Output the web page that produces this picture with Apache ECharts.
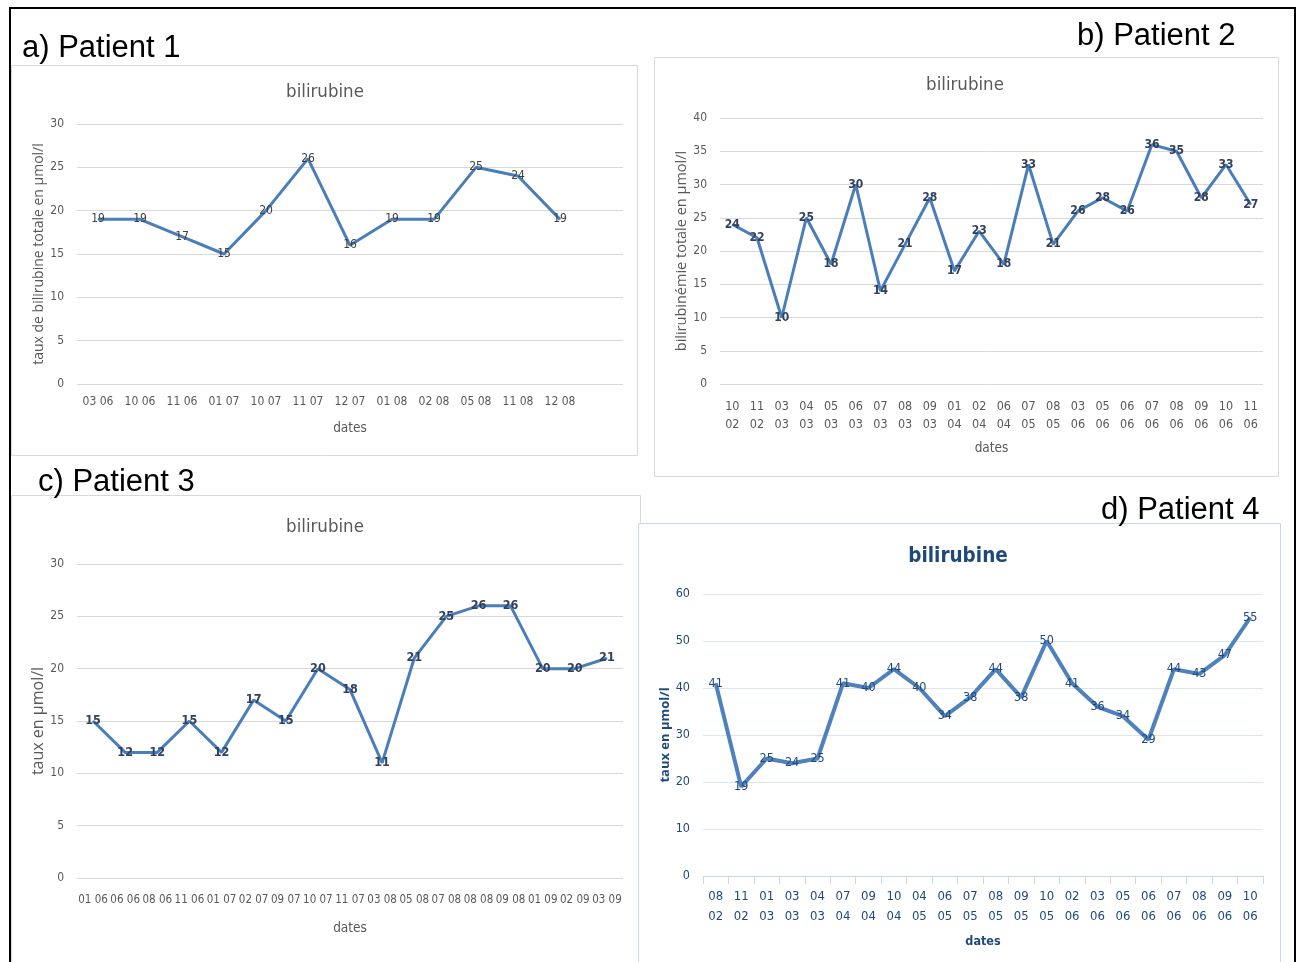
<!DOCTYPE html>
<html><head><meta charset="utf-8">
<script src="https://cdn.jsdelivr.net/npm/echarts@6/dist/echarts.min.js"></script>
<style>html,body{margin:0;padding:0;background:#fff}#c{width:1300px;height:962px}</style>
</head><body><div id="c"></div>
<script>
// Patient 1
const datesP1 = ['03 06','10 06','11 06','01 07','10 07','11 07','12 07','01 08','02 08','05 08','11 08','12 08'];
const biliP1 = [19,19,17,15,20,26,16,19,19,25,24,19];
// Patient 2
const datesP2 = ['10\n02','11\n02','03\n03','04\n03','05\n03','06\n03','07\n03','08\n03','09\n03','01\n04','02\n04','06\n04','07\n05','08\n05','03\n06','05\n06','06\n06','07\n06','08\n06','09\n06','10\n06','11\n06'];
const biliP2 = [24,22,10,25,18,30,14,21,28,17,23,18,33,21,26,28,26,36,35,28,33,27];
// Patient 3
const datesP3 = ['01 06','06 06','08 06','11 06','01 07','02 07','09 07','10 07','11 07','03 08','05 08','07 08','08 08','09 08','01 09','02 09','03 09'];
const biliP3 = [15,12,12,15,12,17,15,20,18,11,21,25,26,26,20,20,21];
// Patient 4
const datesP4 = ['08\n02','11\n02','01\n03','03\n03','04\n03','07\n04','09\n04','10\n04','04\n05','06\n05','07\n05','08\n05','09\n05','10\n05','02\n06','03\n06','05\n06','06\n06','07\n06','08\n06','09\n06','10\n06'];
const biliP4 = [41,19,25,24,25,41,40,44,40,34,38,44,38,50,41,36,34,29,44,43,47,55];

const titles = ['a) Patient 1','b) Patient 2','c) Patient 3','d) Patient 4'];
const chartTitle = 'bilirubine';
const yNames = ['taux de bilirubine totale en µmol/l','bilirubinémie totale en µmol/l','taux en µmol/l','taux en µmol/l'];
const xName = 'dates';

const NARROW = "'DejaVu Sans Condensed','Liberation Sans Narrow',sans-serif";
const SANS = "'Open Sans','Noto Sans',sans-serif";
const GRAY = '#595959';
const BLUE = '#4a7ebb';
const DBLUE = '#1f497d';

const chart = echarts.init(document.getElementById('c'), null, {renderer:'canvas'});

const grids = [
  {left:77, top:124, width:546, height:260},
  {left:720, top:118, width:543, height:266},
  {left:77, top:564, width:546, height:314},
  {left:703, top:594, width:560, height:282}
];

function xAx(i, data, opts){
  return Object.assign({
    type:'category', gridIndex:i, data:data, boundaryGap:true,
    name:xName, nameLocation:'middle',
    axisLine:{show:false}, axisTick:{show:false},
    axisLabel:{interval:0, color:GRAY, fontFamily:NARROW, fontSize:12, margin:12},
    nameTextStyle:{color:GRAY, fontFamily:NARROW, fontSize:13.5}
  }, opts);
}
function yAx(i, max, interval, name, opts){
  return Object.assign({
    type:'value', gridIndex:i, min:0, max:max, interval:interval,
    name:name, nameLocation:'middle', nameGap:30,
    nameTextStyle:{color:GRAY, fontFamily:SANS, fontSize:14},
    axisLine:{show:false}, axisTick:{show:false},
    axisLabel:{color:GRAY, fontFamily:NARROW, fontSize:12, margin:13},
    splitLine:{lineStyle:{color:'#d9d9d9', width:1}}
  }, opts);
}
function ser(i, data, labelOpts, lineOpts){
  return {
    type:'line', xAxisIndex:i, yAxisIndex:i, data:data,
    symbol:'circle', symbolSize:1, showSymbol:true,
    itemStyle:{color:BLUE},
    lineStyle:Object.assign({color:BLUE, width:3}, lineOpts||{}),
    label:Object.assign({show:true, position:'inside', color:'#404040', fontFamily:NARROW, fontSize:12}, labelOpts||{}),
    animation:false, silent:true
  };
}
function ttl(x, y, size, color, weight){
  return {type:'text', x:x, y:y, style:{text:chartTitle, textAlign:'center', textVerticalAlign:'middle',
    font:(weight||'normal')+' '+size+'px '+NARROW, fill:color}};
}
function plab(i, x, y){
  return {type:'text', x:x, y:y, style:{text:titles[i], textVerticalAlign:'middle', font:"31px 'Liberation Sans',Arial,sans-serif", fill:'#000'}};
}

const option = {
  animation:false,
  grid:grids,
  xAxis:[
    xAx(0, datesP1, {max:12, nameGap:37}),
    xAx(1, datesP2, {nameGap:57, axisLabel:{interval:0, color:GRAY, fontFamily:NARROW, fontSize:12.5, margin:14, lineHeight:18}}),
    xAx(2, datesP3, {nameGap:43, axisLabel:{interval:0, color:GRAY, fontFamily:NARROW, fontSize:11.5, margin:16}}),
    xAx(3, datesP4, {nameGap:59,
      axisLine:{show:true, lineStyle:{color:'#c6d9f1', width:1}},
      axisTick:{show:true, length:8, lineStyle:{color:'#c6d9f1'}},
      axisLabel:{interval:0, color:DBLUE, fontFamily:NARROW, fontSize:13, margin:11, lineHeight:20},
      nameTextStyle:{color:DBLUE, fontFamily:NARROW, fontSize:12.5, fontWeight:'bold'}})
  ],
  yAxis:[
    yAx(0, 30, 5, yNames[0]),
    yAx(1, 40, 5, yNames[1], {nameGap:31, nameTextStyle:{color:GRAY, fontFamily:SANS, fontSize:14.5}}),
    yAx(2, 30, 5, yNames[2], {nameTextStyle:{color:GRAY, fontFamily:SANS, fontSize:16}}),
    yAx(3, 60, 10, yNames[3], {
      nameTextStyle:{color:DBLUE, fontFamily:SANS, fontSize:13, fontWeight:'bold'},
      axisLabel:{color:DBLUE, fontFamily:NARROW, fontSize:12.5, margin:13},
      splitLine:{lineStyle:{color:'#dce6f2', width:1}}
    })
  ],
  series:[
    ser(0, biliP1, {color:'#404040'}),
    ser(1, biliP2, {color:'#33415c', fontWeight:'bold', fontSize:12}),
    ser(2, biliP3, {color:'#33415c', fontWeight:'bold', fontSize:12.5}),
    ser(3, biliP4, {color:DBLUE, fontSize:12.5}, {width:4, color:'#4f81bd'})
  ],
  graphic:[
    {type:'rect', shape:{x:10, y:8, width:1285, height:960}, style:{fill:null, stroke:'#000', lineWidth:2}, z:-10},
    {type:'rect', shape:{x:11.5, y:65.5, width:626, height:390}, style:{fill:null, stroke:'#d9d9d9', lineWidth:1}, z:-5},
    {type:'rect', shape:{x:654.5, y:57.5, width:624, height:419}, style:{fill:null, stroke:'#d9d9d9', lineWidth:1}, z:-5},
    {type:'rect', shape:{x:11.5, y:495.5, width:629, height:480}, style:{fill:null, stroke:'#d9d9d9', lineWidth:1}, z:-5},
    {type:'rect', shape:{x:638.5, y:523.5, width:642, height:460}, style:{fill:'#fff', stroke:'#c6d9f1', lineWidth:1}, z:-4},
    ttl(325, 92, 18.5, GRAY),
    ttl(965, 85, 18.5, GRAY),
    ttl(325, 527, 18.5, GRAY),
    ttl(958, 557, 20.5, DBLUE, 'bold'),
    plab(0, 22, 48),
    plab(1, 1077, 36),
    plab(2, 38, 482),
    plab(3, 1101, 510)
  ]
};
chart.setOption(option);
</script></body></html>
